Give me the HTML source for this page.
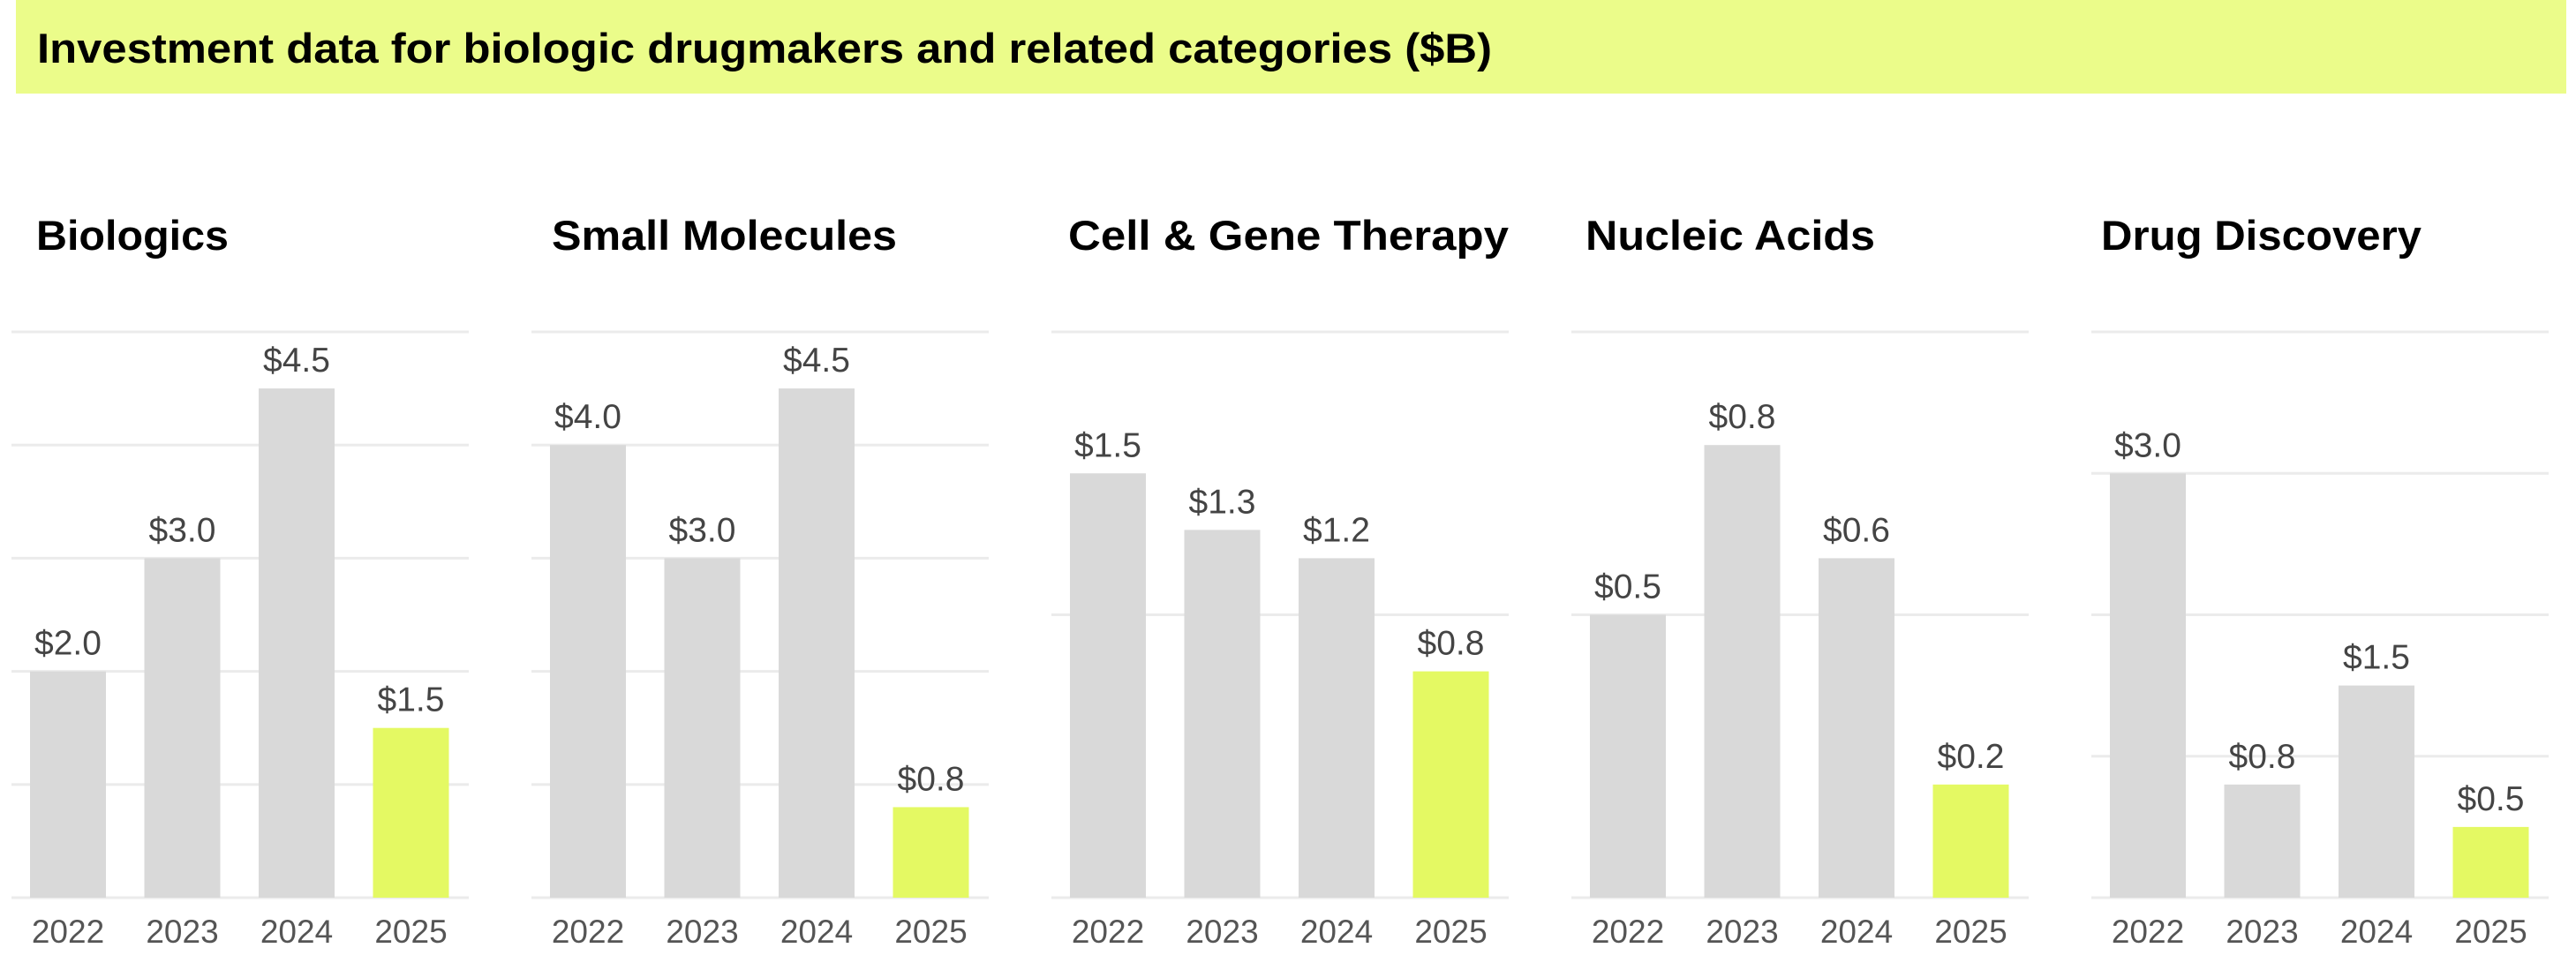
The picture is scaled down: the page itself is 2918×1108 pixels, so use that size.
<!DOCTYPE html>
<html><head><meta charset="utf-8"><style>
html,body{margin:0;padding:0;background:#fff;}
svg{display:block;}
</style></head><body>
<svg width="2918" height="1108" viewBox="0 0 2918 1108" xmlns="http://www.w3.org/2000/svg" font-family="Liberation Sans, Arial, sans-serif">
<rect x="18" y="0" width="2889" height="106" fill="#ebfc8a"/>
<text x="42" y="71" font-size="47" font-weight="bold" fill="#000" textLength="1648" lengthAdjust="spacingAndGlyphs">Investment data for biologic drugmakers and related categories ($B)</text>
<g id="charts"></g>
</svg>
<script>
(function(){
var NS="http://www.w3.org/2000/svg";
var g=document.getElementById("charts");
function el(n,a,t){var e=document.createElementNS(NS,n);for(var k in a)e.setAttribute(k,a[k]);if(t!==undefined)e.textContent=t;g.appendChild(e);return e;}
var panels=[
 {t:"Biologics",max:5,step:1,v:[2.0,3.0,4.5,1.5],tw:218,tx:41},
 {t:"Small Molecules",max:5,step:1,v:[4.0,3.0,4.5,0.8],tw:391,tx:625},
 {t:"Cell & Gene Therapy",max:2,step:1,v:[1.5,1.3,1.2,0.8],tw:499,tx:1210},
 {t:"Nucleic Acids",max:1,step:0.5,v:[0.5,0.8,0.6,0.2],tw:328,tx:1796},
 {t:"Drug Discovery",max:4,step:1,v:[3.0,0.8,1.5,0.5],tw:363,tx:2380}
];
var top=376,base=1017,H=base-top,years=["2022","2023","2024","2025"];
panels.forEach(function(p,i){
 var x0=13+i*589;
 el("text",{x:p.tx,y:283,"font-size":47,"font-weight":"bold",fill:"#000",textLength:p.tw,lengthAdjust:"spacingAndGlyphs"},p.t);
 for(var s=0;s<=p.max+1e-9;s+=p.step){
  var y=base-s/p.max*H;
  el("rect",{x:x0,y:y-1.5,width:518,height:3,fill:"#ebebeb"});
 }
 p.v.forEach(function(v,j){
  var bx=x0+21+j*129.5, h=v/p.max*H, by=base-h;
  el("rect",{x:bx,y:by,width:86,height:h,fill:j==3?"#e4f963":"#d9d9d9"});
  el("text",{x:bx+43,y:by-19,"font-size":39,fill:"#444","text-anchor":"middle"},"$"+v.toFixed(1));
  el("text",{x:bx+43,y:1068,"font-size":37,fill:"#555","text-anchor":"middle"},years[j]);
 });
});
})();
</script>
</body></html>
